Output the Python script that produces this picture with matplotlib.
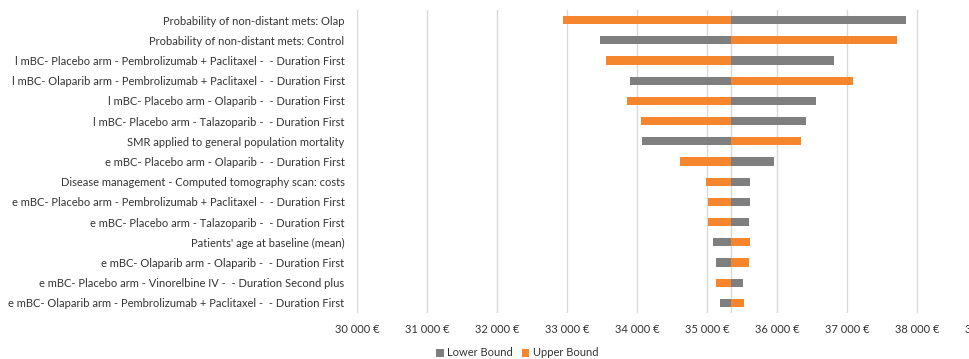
import matplotlib
matplotlib.use("Agg")
import matplotlib.pyplot as plt
from matplotlib.patches import Patch
from matplotlib.ticker import FuncFormatter

plt.rcParams['font.family'] = ['Lato', 'DejaVu Sans']

parameters = [
    "Probability of non-distant mets: Olap",
    "Probability of non-distant mets: Control",
    "l mBC- Placebo arm - Pembrolizumab + Paclitaxel -  - Duration First",
    "l mBC- Olaparib arm - Pembrolizumab + Paclitaxel -  - Duration First",
    "l mBC- Placebo arm - Olaparib -  - Duration First",
    "l mBC- Placebo arm - Talazoparib -  - Duration First",
    "SMR applied to general population mortality",
    "e mBC- Placebo arm - Olaparib -  - Duration First",
    "Disease management - Computed tomography scan: costs",
    "e mBC- Placebo arm - Pembrolizumab + Paclitaxel -  - Duration First",
    "e mBC- Placebo arm - Talazoparib -  - Duration First",
    "Patients' age at baseline (mean)",
    "e mBC- Olaparib arm - Olaparib -  - Duration First",
    "e mBC- Placebo arm - Vinorelbine IV -  - Duration Second plus",
    "e mBC- Olaparib arm - Pembrolizumab + Paclitaxel -  - Duration First",
]

lower_bound = [37840, 33470, 36810, 33900, 36560, 36410, 34070, 35950,
               35610, 35610, 35600, 35080, 35130, 35510, 35180]
upper_bound = [32940, 37720, 33550, 37080, 33860, 34050, 36340, 34610,
               34980, 35010, 35020, 35620, 35600, 35130, 35530]

base_case = 35340
x_ticks = [30000, 31000, 32000, 33000, 34000, 35000, 36000, 37000, 38000, 39000]

GREY = "#7F7F7F"
ORANGE = "#F5862E"
TEXT = "#333333"

W, H = 969, 359
fig = plt.figure(figsize=(W / 100, H / 100), dpi=100)
ax = fig.add_axes([357 / W, (H - 313) / H, (987 - 357) / W, 303 / H])

rows = list(range(len(parameters)))
bar_h = 0.4
ax.barh(rows, [v - base_case for v in lower_bound], left=base_case,
        height=bar_h, color=GREY, zorder=3)
ax.barh(rows, [v - base_case for v in upper_bound], left=base_case,
        height=bar_h, color=ORANGE, zorder=3)

ax.set_xlim(x_ticks[0], x_ticks[-1])
ax.set_ylim(len(parameters) - 0.5, -0.5)
ax.set_xticks(x_ticks)
ax.xaxis.set_major_formatter(
    FuncFormatter(lambda v, p: f"{int(v):,} €".replace(",", " ")))
ax.set_yticks(rows)
ax.set_yticklabels(parameters)

ax.grid(axis="x", color="#D9D9D9", linewidth=1, zorder=0)
ax.axvline(base_case, color="#D9D9D9", linewidth=1, zorder=1)
for s in ax.spines.values():
    s.set_visible(False)
ax.tick_params(axis="both", length=0, labelsize=8, colors=TEXT)
ax.tick_params(axis="x", pad=8)
ax.tick_params(axis="y", pad=9)

handles = [Patch(facecolor=GREY, label="Lower Bound"),
           Patch(facecolor=ORANGE, label="Upper Bound")]
fig.legend(handles=handles, loc="center", bbox_to_anchor=(517 / W, 1 - 353 / H),
           ncol=2, frameon=False, fontsize=8, handlelength=0.7, handleheight=0.7,
           handletextpad=0.3, columnspacing=0.8, labelcolor=TEXT)

fig.savefig("out.png", dpi=100)
